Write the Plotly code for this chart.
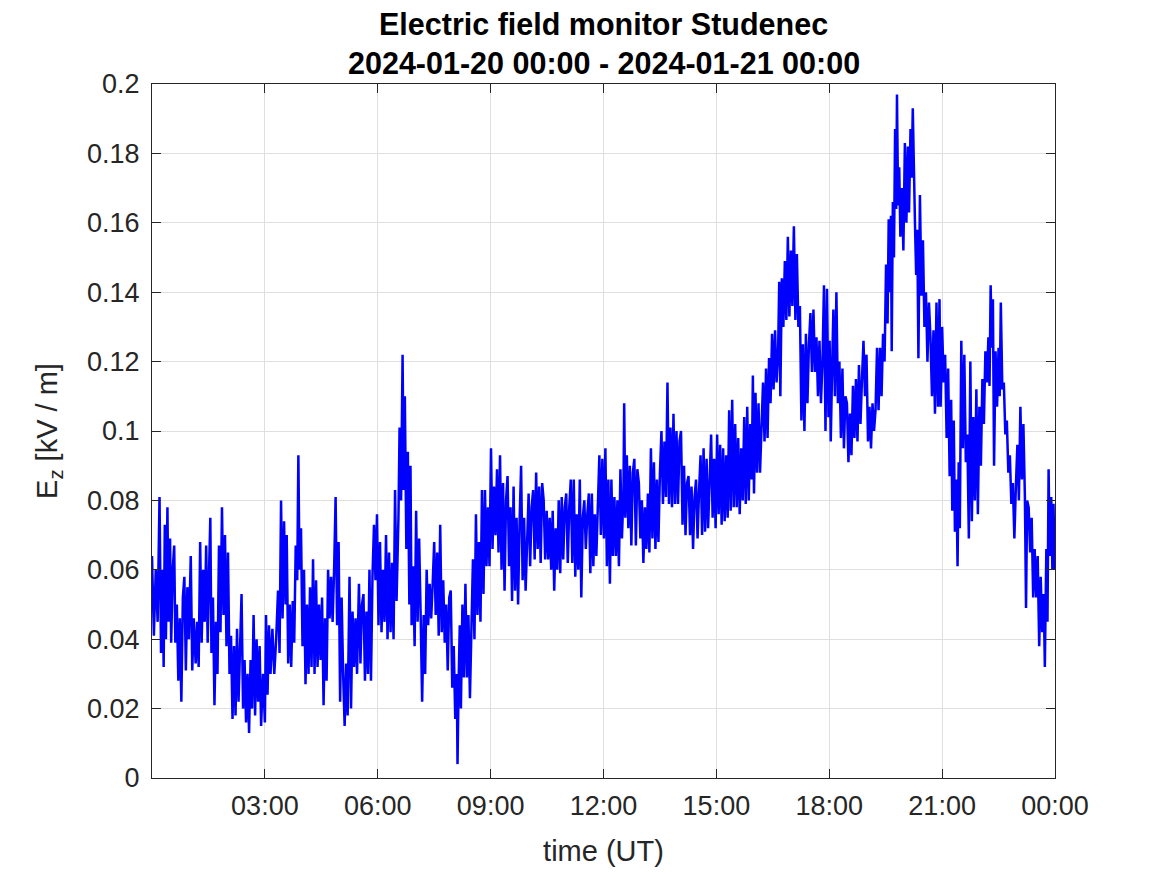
import pandas as pd
import plotly.graph_objects as go

# ---- data ----
start_time = "2024-01-20 00:00"
end_time = "2024-01-21 00:00"

hours = [
    0.00, 0.05, 0.10, 0.15, 0.20, 0.24, 0.28, 0.31, 0.34, 0.37, 0.41, 0.44, 0.48, 0.51, 0.55, 0.59, 0.62, 0.66, 0.70, 0.74,
    0.78, 0.82, 0.86, 0.90, 0.94, 0.98, 1.03, 1.07, 1.11, 1.16, 1.20, 1.24, 1.28, 1.32, 1.36, 1.40, 1.44, 1.48, 1.52, 1.55,
    1.58, 1.62, 1.66, 1.70, 1.74, 1.78, 1.82, 1.86, 1.90, 1.94, 1.98, 2.02, 2.06, 2.10, 2.14, 2.18, 2.22, 2.26, 2.30, 2.34,
    2.38, 2.42, 2.46, 2.50, 2.54, 2.58, 2.62, 2.66, 2.70, 2.74, 2.78, 2.82, 2.86, 2.90, 2.95, 3.00,
    3.03, 3.07, 3.11, 3.15, 3.20, 3.25, 3.30, 3.35, 3.39, 3.43, 3.47, 3.51, 3.55, 3.58, 3.62, 3.66, 3.70, 3.74, 3.78, 3.82,
    3.86, 3.89, 3.92, 3.96, 4.00, 4.04, 4.08, 4.12, 4.16, 4.20, 4.24, 4.28, 4.32, 4.36, 4.40, 4.44, 4.48, 4.52, 4.56, 4.60,
    4.64, 4.68, 4.72, 4.76, 4.80, 4.84, 4.88, 4.92, 4.96, 5.00, 5.04, 5.08, 5.12, 5.16, 5.20, 5.25, 5.29, 5.33, 5.37, 5.41,
    5.45, 5.50, 5.54, 5.58, 5.62, 5.66, 5.70, 5.74, 5.78, 5.82, 5.86, 5.90, 5.94, 5.98, 6.02,
    6.06, 6.10, 6.14, 6.18, 6.22, 6.26, 6.30, 6.34, 6.38, 6.42, 6.46, 6.50, 6.55, 6.58, 6.62, 6.66, 6.69, 6.72, 6.76, 6.80,
    6.84, 6.87, 6.90, 6.94, 6.98, 7.02, 7.06, 7.10, 7.14, 7.18, 7.22, 7.26, 7.30, 7.34, 7.38, 7.42, 7.46, 7.50, 7.54, 7.58,
    7.62, 7.66, 7.70, 7.74, 7.78, 7.82, 7.86, 7.90, 7.94, 7.98, 8.02, 8.06, 8.10, 8.12, 8.15, 8.18, 8.21, 8.25, 8.29, 8.33,
    8.37, 8.41, 8.45, 8.49, 8.53, 8.57, 8.61, 8.65, 8.69, 8.73, 8.77, 8.81, 8.85, 8.89, 8.93, 8.97, 9.01, 9.05,
    9.09, 9.13, 9.17, 9.21, 9.25, 9.29, 9.33, 9.37, 9.41, 9.45, 9.49, 9.53, 9.57, 9.61, 9.65, 9.69, 9.73, 9.77, 9.81, 9.85,
    9.89, 9.93, 9.97, 10.01, 10.05, 10.09, 10.13, 10.17, 10.21, 10.25, 10.29, 10.33, 10.37, 10.41, 10.45, 10.49, 10.53, 10.57, 10.61, 10.65,
    10.69, 10.73, 10.77, 10.81, 10.85, 10.89, 10.93, 10.97, 11.01, 11.05, 11.09, 11.13, 11.17, 11.21, 11.25, 11.29, 11.33, 11.37, 11.41, 11.45,
    11.49, 11.53, 11.57, 11.61, 11.65, 11.69, 11.73, 11.77, 11.81, 11.85, 11.89, 11.93, 11.97, 12.01, 12.05, 12.09,
    12.13, 12.17, 12.21, 12.25, 12.29, 12.33, 12.37, 12.41, 12.45, 12.49, 12.53, 12.55, 12.58, 12.62, 12.66, 12.70, 12.74, 12.78, 12.82, 12.86,
    12.90, 12.94, 12.98, 13.02, 13.06, 13.10, 13.14, 13.18, 13.22, 13.26, 13.30, 13.34, 13.38, 13.42, 13.46, 13.50, 13.54, 13.58, 13.62, 13.66,
    13.70, 13.74, 13.78, 13.82, 13.86, 13.90, 13.94, 13.98, 14.02, 14.06, 14.10, 14.14, 14.18, 14.22, 14.26, 14.30, 14.34, 14.38, 14.42, 14.46,
    14.50, 14.54, 14.58, 14.62, 14.66, 14.70, 14.74, 14.78, 14.82, 14.86, 14.90, 14.94, 14.98, 15.02,
    15.06, 15.10, 15.14, 15.18, 15.22, 15.26, 15.30, 15.34, 15.38, 15.42, 15.46, 15.50, 15.54, 15.58, 15.62, 15.66, 15.70, 15.74, 15.78, 15.82,
    15.86, 15.90, 15.94, 15.97, 16.00, 16.04, 16.08, 16.12, 16.16, 16.20, 16.24, 16.28, 16.32, 16.36, 16.40, 16.44, 16.48, 16.52, 16.56, 16.60,
    16.64, 16.67, 16.70, 16.74, 16.78, 16.82, 16.86, 16.90, 16.94, 16.98, 17.02, 17.06, 17.10, 17.14, 17.18, 17.22, 17.26, 17.30, 17.34, 17.38,
    17.42, 17.46, 17.50, 17.54, 17.58, 17.62, 17.66, 17.70, 17.74, 17.78, 17.82, 17.86, 17.90, 17.94,
    17.98, 18.01, 18.04, 18.08, 18.11, 18.15, 18.19, 18.23, 18.27, 18.31, 18.35, 18.39, 18.43, 18.47, 18.51, 18.55, 18.59, 18.63, 18.67, 18.71,
    18.75, 18.79, 18.83, 18.87, 18.91, 18.95, 18.99, 19.03, 19.07, 19.11, 19.15, 19.19, 19.23, 19.27, 19.31, 19.35, 19.39, 19.43, 19.47, 19.51,
    19.55, 19.58, 19.61, 19.64, 19.66, 19.69, 19.72, 19.75, 19.78, 19.80, 19.83, 19.86, 19.89, 19.93, 19.97, 20.01, 20.05, 20.09, 20.12, 20.16,
    20.19, 20.22, 20.25, 20.28, 20.31, 20.34, 20.37, 20.41, 20.45, 20.49, 20.53, 20.57, 20.61, 20.65, 20.69, 20.73, 20.77, 20.81, 20.85, 20.89,
    20.93, 20.96, 21.00, 21.04, 21.08, 21.12, 21.16, 21.20, 21.24, 21.27, 21.31, 21.34, 21.38, 21.41, 21.44, 21.47, 21.51, 21.55, 21.59, 21.63,
    21.67, 21.71, 21.75, 21.79, 21.83, 21.87, 21.91, 21.95, 21.99, 22.03, 22.07, 22.11, 22.15, 22.19, 22.23, 22.26, 22.29, 22.32, 22.35, 22.38,
    22.42, 22.46, 22.50, 22.53, 22.56, 22.60, 22.64, 22.68, 22.72, 22.76, 22.80, 22.84, 22.88, 22.92, 22.96, 23.00, 23.04, 23.08, 23.12, 23.16,
    23.20, 23.23, 23.26, 23.30, 23.34, 23.38, 23.42, 23.46, 23.50, 23.54, 23.58, 23.62, 23.66, 23.70, 23.73, 23.77, 23.80, 23.83, 23.86, 23.90,
    23.93, 23.96, 23.99, 24.00,
]

ez_kv_per_m = [
    0.064, 0.041, 0.060, 0.045, 0.081, 0.036, 0.060, 0.032, 0.073, 0.040, 0.078, 0.045, 0.069, 0.039, 0.060, 0.067, 0.039, 0.050, 0.028, 0.046,
    0.022, 0.052, 0.058, 0.031, 0.055, 0.040, 0.064, 0.031, 0.046, 0.033, 0.045, 0.032, 0.068, 0.039, 0.060, 0.045, 0.067, 0.039, 0.061, 0.075,
    0.036, 0.052, 0.021, 0.045, 0.030, 0.067, 0.042, 0.078, 0.047, 0.070, 0.038, 0.065, 0.030, 0.041, 0.017, 0.038, 0.018, 0.043, 0.022, 0.035,
    0.053, 0.020, 0.034, 0.016, 0.030, 0.013, 0.034, 0.020, 0.047, 0.018, 0.040, 0.022, 0.038, 0.015, 0.030, 0.016,
    0.047, 0.024, 0.044, 0.030, 0.043, 0.030, 0.040, 0.054, 0.036, 0.080, 0.046, 0.074, 0.050, 0.070, 0.033, 0.050, 0.032, 0.051, 0.039, 0.067,
    0.057, 0.093, 0.060, 0.072, 0.038, 0.060, 0.027, 0.050, 0.030, 0.055, 0.032, 0.063, 0.030, 0.057, 0.032, 0.050, 0.034, 0.052, 0.021, 0.046,
    0.028, 0.060, 0.046, 0.058, 0.045, 0.060, 0.081, 0.044, 0.068, 0.022, 0.052, 0.030, 0.015, 0.033, 0.018, 0.058, 0.020, 0.048, 0.032, 0.046,
    0.030, 0.056, 0.033, 0.050, 0.053, 0.028, 0.048, 0.030, 0.060, 0.028, 0.058, 0.073, 0.057, 0.076, 0.044,
    0.068, 0.042, 0.060, 0.045, 0.070, 0.040, 0.065, 0.042, 0.062, 0.040, 0.083, 0.051, 0.075, 0.101, 0.080, 0.122, 0.083, 0.110, 0.066, 0.094,
    0.050, 0.090, 0.044, 0.061, 0.038, 0.077, 0.045, 0.069, 0.047, 0.022, 0.047, 0.030, 0.060, 0.044, 0.056, 0.046, 0.056, 0.068, 0.047, 0.065,
    0.041, 0.073, 0.042, 0.057, 0.039, 0.050, 0.031, 0.052, 0.054, 0.026, 0.038, 0.017, 0.030, 0.004, 0.028, 0.044, 0.020, 0.050, 0.029, 0.056,
    0.029, 0.047, 0.023, 0.045, 0.063, 0.040, 0.076, 0.047, 0.068, 0.045, 0.083, 0.053, 0.083, 0.061, 0.078, 0.061, 0.095, 0.066,
    0.084, 0.070, 0.089, 0.065, 0.093, 0.060, 0.085, 0.054, 0.080, 0.087, 0.061, 0.078, 0.051, 0.084, 0.054, 0.075, 0.050, 0.074, 0.090, 0.057,
    0.075, 0.054, 0.070, 0.082, 0.061, 0.078, 0.083, 0.063, 0.088, 0.066, 0.084, 0.062, 0.085, 0.080, 0.063, 0.077, 0.063, 0.075, 0.060, 0.077,
    0.054, 0.072, 0.060, 0.080, 0.059, 0.081, 0.063, 0.078, 0.082, 0.062, 0.078, 0.086, 0.062, 0.086, 0.058, 0.076, 0.060, 0.086, 0.052, 0.075,
    0.080, 0.066, 0.076, 0.082, 0.059, 0.082, 0.061, 0.076, 0.064, 0.080, 0.093, 0.070, 0.092, 0.069, 0.095, 0.061,
    0.086, 0.056, 0.086, 0.064, 0.081, 0.064, 0.080, 0.061, 0.089, 0.069, 0.082, 0.108, 0.075, 0.093, 0.072, 0.090, 0.067, 0.088, 0.092, 0.067,
    0.089, 0.085, 0.069, 0.080, 0.062, 0.078, 0.066, 0.082, 0.065, 0.095, 0.069, 0.091, 0.066, 0.086, 0.068, 0.088, 0.100, 0.079, 0.097, 0.081,
    0.114, 0.079, 0.101, 0.078, 0.105, 0.079, 0.100, 0.079, 0.097, 0.100, 0.073, 0.090, 0.070, 0.085, 0.087, 0.070, 0.084, 0.066, 0.081, 0.086,
    0.069, 0.083, 0.093, 0.070, 0.095, 0.071, 0.092, 0.072, 0.089, 0.099, 0.075, 0.092, 0.072, 0.099,
    0.076, 0.096, 0.073, 0.095, 0.074, 0.093, 0.075, 0.106, 0.077, 0.109, 0.078, 0.102, 0.078, 0.098, 0.076, 0.095, 0.080, 0.104, 0.079, 0.107,
    0.080, 0.102, 0.086, 0.116, 0.082, 0.111, 0.088, 0.108, 0.088, 0.105, 0.114, 0.097, 0.118, 0.098, 0.121, 0.108, 0.128, 0.112, 0.129, 0.114,
    0.122, 0.143, 0.110, 0.144, 0.130, 0.149, 0.132, 0.156, 0.133, 0.152, 0.136, 0.159, 0.132, 0.151, 0.130, 0.136, 0.103, 0.125, 0.100, 0.128,
    0.108, 0.125, 0.134, 0.117, 0.135, 0.117, 0.127, 0.110, 0.126, 0.108, 0.120, 0.142, 0.100, 0.141,
    0.104, 0.126, 0.097, 0.120, 0.135, 0.110, 0.140, 0.108, 0.120, 0.098, 0.118, 0.095, 0.110, 0.108, 0.091, 0.105, 0.093, 0.113, 0.098, 0.115,
    0.097, 0.119, 0.102, 0.115, 0.126, 0.110, 0.122, 0.097, 0.107, 0.095, 0.108, 0.100, 0.106, 0.124, 0.106, 0.124, 0.110, 0.128, 0.120, 0.148,
    0.131, 0.161, 0.140, 0.162, 0.123, 0.166, 0.150, 0.187, 0.164, 0.197, 0.165, 0.176, 0.156, 0.170, 0.152, 0.183, 0.160, 0.182, 0.163, 0.187,
    0.173, 0.193, 0.170, 0.159, 0.145, 0.158, 0.121, 0.168, 0.139, 0.155, 0.130, 0.140, 0.120, 0.137, 0.127, 0.110, 0.129, 0.105, 0.137, 0.107,
    0.138, 0.107, 0.130, 0.114, 0.122, 0.098, 0.118, 0.087, 0.109, 0.077, 0.103, 0.071, 0.086, 0.061, 0.091, 0.072, 0.126, 0.095, 0.122, 0.091,
    0.099, 0.069, 0.120, 0.074, 0.104, 0.080, 0.112, 0.076, 0.107, 0.090, 0.115, 0.102, 0.123, 0.114, 0.127, 0.113, 0.142, 0.124, 0.138, 0.090,
    0.123, 0.107, 0.124, 0.110, 0.137, 0.112, 0.114, 0.099, 0.103, 0.088, 0.093, 0.079, 0.085, 0.069, 0.084, 0.096, 0.080, 0.107, 0.086, 0.102,
    0.081, 0.049, 0.080, 0.078, 0.065, 0.075, 0.052, 0.066, 0.052, 0.064, 0.038, 0.058, 0.042, 0.053, 0.032, 0.066, 0.045, 0.089, 0.064, 0.081,
    0.060, 0.079, 0.060, 0.064,
]

x_tick_hours = [3, 6, 9, 12, 15, 18, 21, 24]
y_tick_values = [0, 0.02, 0.04, 0.06, 0.08, 0.1, 0.12, 0.14, 0.16, 0.18, 0.2]
y_tick_labels = ["0", "0.02", "0.04", "0.06", "0.08", "0.1", "0.12", "0.14", "0.16", "0.18", "0.2"]

title_line1 = "Electric field monitor Studenec"
title_line2 = f"{start_time} - {end_time}"

# ---- build ----
t0 = pd.Timestamp(start_time)
times = t0 + pd.to_timedelta(hours, unit="h")
x_ticks = t0 + pd.to_timedelta(x_tick_hours, unit="h")

FONT = "Liberation Sans, Arial, Helvetica, sans-serif"
AX = "#262626"

fig = go.Figure()
fig.add_trace(go.Scatter(
    x=times, y=ez_kv_per_m, mode="lines",
    line=dict(color="#0000ff", width=2.5),
    showlegend=False, hoverinfo="skip",
))

fig.update_layout(
    width=1167, height=875,
    margin=dict(l=144, r=120, t=76, b=105),
    paper_bgcolor="white", plot_bgcolor="white",
    font=dict(family=FONT, color=AX, size=27),
)

for text, shift in [(title_line1, 60), (title_line2, 21)]:
    fig.add_annotation(
        text=f"<b>{text}</b>", xref="paper", yref="paper",
        x=0.5, y=1, xanchor="center", yanchor="middle", yshift=shift,
        showarrow=False, font=dict(family=FONT, size=30.5, color="black"),
    )

fig.update_xaxes(
    range=[t0, t0 + pd.Timedelta(hours=24)],
    tickvals=x_ticks, tickformat="%H:%M",
    ticks="inside", ticklen=9, tickwidth=1, tickcolor=AX,
    showline=True, linecolor=AX, linewidth=1, mirror="ticks",
    showgrid=True, gridcolor="#dfdfdf", gridwidth=1,
    zeroline=False,
    tickfont=dict(size=27, color=AX), ticklabelstandoff=4,
    title=dict(text="time (UT)", font=dict(size=29, color=AX), standoff=20),
    automargin=False,
)
fig.update_yaxes(
    range=[0, 0.2],
    tickvals=y_tick_values, ticktext=y_tick_labels,
    ticks="inside", ticklen=9, tickwidth=1, tickcolor=AX,
    showline=True, linecolor=AX, linewidth=1, mirror="ticks",
    showgrid=True, gridcolor="#dfdfdf", gridwidth=1,
    zeroline=False,
    tickfont=dict(size=27, color=AX), ticklabelstandoff=6,
    title=dict(text="E<sub>z</sub> [kV / m]", font=dict(size=29, color=AX), standoff=20),
    automargin=False,
)

fig.write_html("out.html")
